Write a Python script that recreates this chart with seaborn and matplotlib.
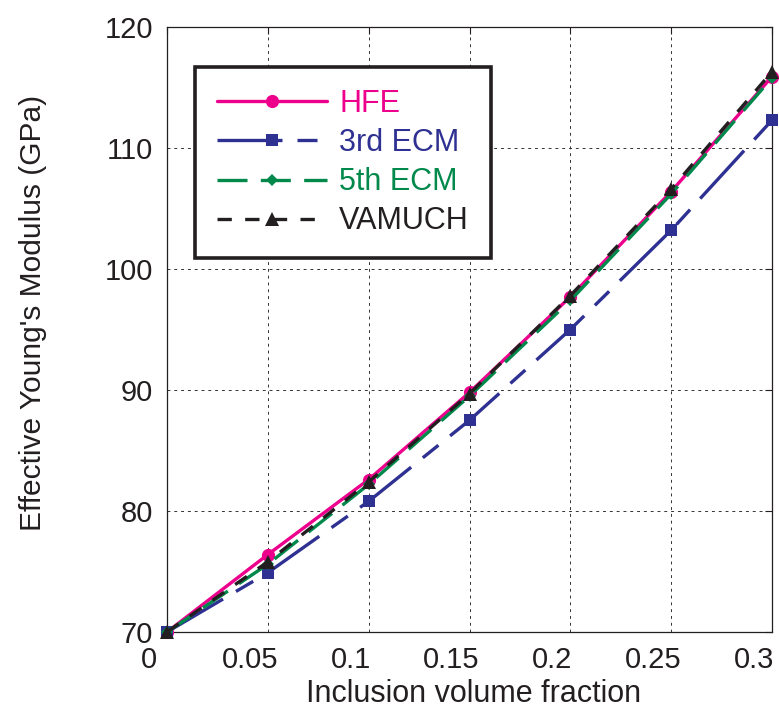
import numpy as np
import matplotlib
matplotlib.use("Agg")
import matplotlib.pyplot as plt
import matplotlib.transforms as mtransforms
import seaborn as sns

# datos
vol_frac = [0.0, 0.05, 0.10, 0.15, 0.20, 0.25, 0.30]
hfe = [70.0, 76.4, 82.6, 89.8, 97.7, 106.4, 115.9]
ecm3 = [70.0, 74.9, 80.8, 87.5, 95.0, 103.2, 112.3]
ecm5 = [70.0, 75.6, 82.2, 89.5, 97.4, 106.2, 115.8]
vamuch = [70.0, 75.8, 82.4, 89.7, 97.8, 106.6, 116.3]

labels = ["HFE", "3rd ECM", "5th ECM", "VAMUCH"]
x_ticks = [0, 0.05, 0.1, 0.15, 0.2, 0.25, 0.3]
x_ticklabels = ["0", "0.05", "0.1", "0.15", "0.2", "0.25", "0.3"]
y_ticks = [70, 80, 90, 100, 110, 120]

sns.set_style("white")
plt.rcParams["font.family"] = ["Liberation Sans", "DejaVu Sans"]

fig = plt.figure(figsize=(7.79, 7.13), dpi=100)
ax = fig.add_axes([167 / 779, 81 / 713, 605 / 779, 605 / 713])

series = [
    (hfe, "#EC008C", "o", 9.5, "-"),
    (ecm3, "#2E3192", "s", 9, (0, (19.5, 4.5, 6, 4.5))),
    (ecm5, "#00894A", "D", 6.5, (0, (9, 4))),
    (vamuch, "#231F20", "^", 10, (0, (4.3, 4))),
]

for (vals, color, mk, ms, ls), lab in zip(series, labels):
    sns.lineplot(
        x=vol_frac,
        y=vals,
        ax=ax,
        color=color,
        marker=mk,
        markersize=ms,
        markeredgewidth=0,
        linewidth=2.4,
        linestyle=ls,
        label=lab,
        clip_on=False,
        zorder=3,
    )

ax.set_xlim(0, 0.3)
ax.set_ylim(70, 120)
ax.set_xticks(x_ticks)
ax.set_xticklabels(x_ticklabels)
ax.set_yticks(y_ticks)

ax.grid(True, color="#333333", linestyle=(0, (3, 4)), linewidth=0.7)
for sp in ax.spines.values():
    sp.set_visible(True)
    sp.set_color("#231F20")
    sp.set_linewidth(0.9)

ax.tick_params(
    direction="in", length=5, width=0.8, top=True, right=True,
    labelsize=21, colors="#231F20",
)
ax.tick_params(axis="y", pad=10)
ax.tick_params(axis="x", pad=10)

# las etiquetas del eje x estan algo desplazadas a la izquierda en el original
shift = mtransforms.ScaledTranslation(-18 / 100, 0, fig.dpi_scale_trans)
for t in ax.get_xticklabels():
    t.set_transform(t.get_transform() + shift)

ax.set_xlabel("Inclusion volume fraction", fontsize=22, color="#231F20")
ax.set_ylabel("Effective Young's Modulus (GPa)", fontsize=21.5, color="#231F20")
ax.xaxis.set_label_coords(0.507, -0.077)
ax.yaxis.set_label_coords(-0.198, 0.527)

leg = ax.legend(
    loc="upper left",
    bbox_to_anchor=(0.046, 0.934),
    borderaxespad=0,
    fontsize=22,
    handlelength=3.6,
    handletextpad=0.4,
    labelspacing=0.3,
    borderpad=0.72,
    fancybox=False,
    framealpha=1,
    labelcolor="linecolor",
)
leg.get_frame().set_edgecolor("#231F20")
leg.get_frame().set_linewidth(2.6)

fig.savefig("out.png", dpi=100)
